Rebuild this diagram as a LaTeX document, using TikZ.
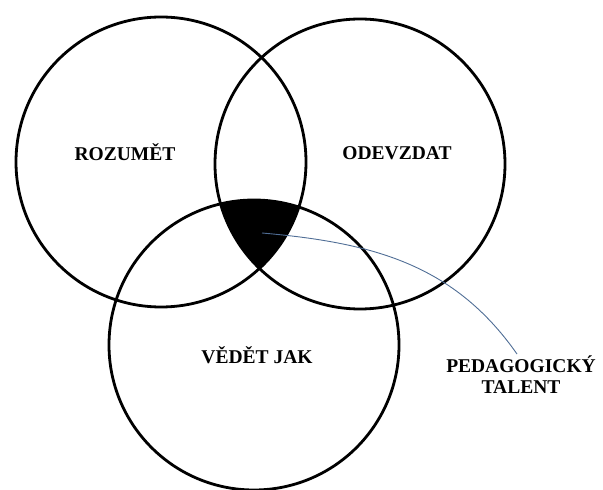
\documentclass[tikz,border=0pt]{standalone}
\usepackage{fontspec}
\setmainfont{Liberation Serif}
\definecolor{leaderblue}{RGB}{80,110,150}
\tikzset{
  venn/.style={line width=2.8pt, black},
  setlabel/.style={font=\bfseries\fontsize{19.5}{21}\selectfont, inner sep=0pt, anchor=base},
}
\begin{document}
\begin{tikzpicture}[x=1pt, y=1pt]
    \useasboundingbox (0,0) rectangle (603,490);
    % středy kruhů
    \coordinate (rozum) at (161,328);
    \coordinate (odevzd) at (360,326);
    \coordinate (jak) at (254,145);

    % společný průnik
    \begin{scope}
        \clip (rozum) circle (145pt);
        \clip (odevzd) circle (145pt);
        \fill (jak) circle (145pt);
    \end{scope}

    % kruhy
    \draw[venn] (rozum) circle (145pt);
    \draw[venn] (odevzd) circle (145pt);
    \draw[venn] (jak) circle (145pt);

    % popisky
    \node[setlabel] (lrozum) at (125,329) {ROZUMĚT};
    \node[setlabel] (lodevzd) at (397,330) {ODEVZDAT};
    \node[setlabel] (ljak) at (257,126) {VĚDĚT JAK};

    % talent
    \coordinate (core) at (262,257);
    \node[font=\bfseries\fontsize{19.5}{21}\selectfont, align=center, anchor=north, inner sep=2pt] (talent) at (521,136) {PEDAGOGICKÝ\\TALENT};
    \draw[leaderblue, line width=0.9pt] (core) to[out=-5, in=125] ([xshift=-4pt]talent.north);
\end{tikzpicture}
\end{document}
